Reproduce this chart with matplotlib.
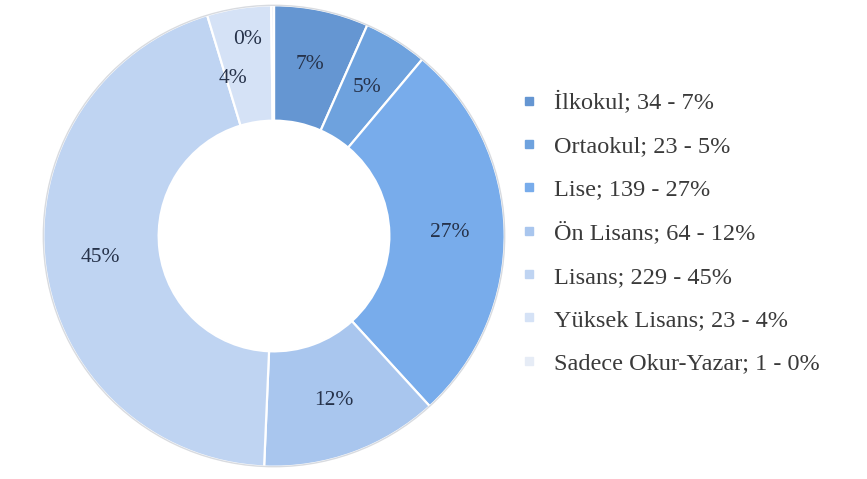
import numpy as np
import matplotlib
matplotlib.use('Agg')
import matplotlib.pyplot as plt
from matplotlib.lines import Line2D

# Veriler
kategoriler = ['İlkokul', 'Ortaokul', 'Lise', 'Ön Lisans', 'Lisans',
               'Yüksek Lisans', 'Sadece Okur-Yazar']
sayilar = [34, 23, 139, 64, 229, 23, 1]
yuzdeler = [7, 5, 27, 12, 45, 4, 0]
renkler = ['#6596d2', '#6ea2de', '#78aceb', '#a9c6ee', '#bfd4f2',
           '#d5e2f6', '#e6ecf6']

plt.rcParams['font.family'] = ['Liberation Serif', 'DejaVu Serif']

fig = plt.figure(figsize=(8.67, 4.79), dpi=100)
ax = fig.add_axes([41 / 867, 10 / 479, 466 / 867, 466 / 479])

wedges, texts, autotexts = ax.pie(
    sayilar, colors=renkler, startangle=90, counterclock=False,
    radius=1.0, pctdistance=0.76,
    autopct=lambda p: '',
    wedgeprops=dict(width=0.5, edgecolor='white', linewidth=1.6))

# Yüzde etiketleri
for t, y in zip(autotexts, yuzdeler):
    t.set_text(f'{y}%')
    t.set_fontsize(15.5)
    t.set_color('#26324a')

# 0% ve 4% etiketleri üst üste binmesin
x0, y0 = autotexts[-1].get_position()
autotexts[-1].set_position((x0 - 0.11, y0 + 0.09))
x4, y4 = autotexts[-2].get_position()
autotexts[-2].set_position((x4 - 0.06, y4 - 0.07))

# Dış kenar gölgesi
ax.add_patch(plt.Circle((0, 0), 1.0, fill=False, ec='#d8dbe0', lw=1.0))

ax.set_xlim(-1.01, 1.01)
ax.set_ylim(-1.01, 1.01)
ax.set_aspect('equal')
ax.axis('off')

# Gösterge
handles = [Line2D([], [], marker='s', ls='', color=c, markersize=6)
           for c in renkler]
labels = [f'{k}; {s} - {y}%' for k, s, y in zip(kategoriler, sayilar, yuzdeler)]
fig.legend(handles, labels, loc='upper left', bbox_to_anchor=(0.577, 0.855),
           frameon=False, fontsize=17.5, labelspacing=0.87, handlelength=0.6,
           handletextpad=0.7, labelcolor='#3a3a3a')

fig.savefig('out.png', dpi=100)
